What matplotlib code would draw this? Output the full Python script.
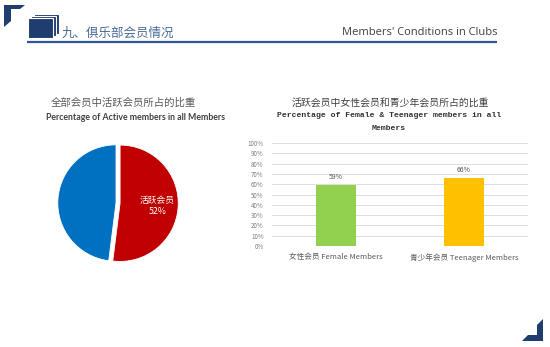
import matplotlib

matplotlib.use("Agg")

from matplotlib import pyplot as plt
from matplotlib.patches import Polygon, Rectangle

CJK = ["Noto Sans CJK SC", "DejaVu Sans"]
plt.rcParams["font.family"] = CJK

# data
pie_labels = ["活跃会员", "非活跃会员"]
pie_values = [52, 48]
pie_colors = ["#c00000", "#0070c0"]

bar_categories = ["女性会员 Female Members", "青少年会员 Teenager Members"]
bar_values = [0.59, 0.66]
bar_colors = ["#92d050", "#ffc000"]
y_ticks = [i / 10 for i in range(11)]
y_tick_labels = [f"{i * 10}%" for i in range(11)]

W, H = 550, 347
fig = plt.figure(figsize=(W / 100, H / 100), dpi=100)
fig.patch.set_facecolor("white")


def px_axes(left, top, width, height):
    # axes placed in pixel coords (origin top-left)
    return fig.add_axes([left / W, 1 - (top + height) / H, width / W, height / H])


# background layer for header decorations
bg = fig.add_axes([0, 0, 1, 1])
bg.set_xlim(0, W)
bg.set_ylim(H, 0)
bg.axis("off")

navy = "#1f3d6e"
bg.add_patch(Polygon([(4, 5), (25, 5), (20, 9), (11, 9), (11, 21), (4, 27)],
                     closed=True, facecolor=navy, edgecolor="none"))
bg.add_patch(Polygon([(543, 319), (543, 341), (522, 341), (528, 335), (537, 335), (537, 325)],
                     closed=True, facecolor=navy, edgecolor="none"))
for dx, dy in [(6, -4), (3, -2), (0, 0)]:
    bg.add_patch(Rectangle((28 + dx, 18 + dy), 25, 20, facecolor=navy,
                           edgecolor="white", linewidth=0.8))
bg.plot([27, 497], [41.5, 41.5], color="#2f5597", linewidth=1.6, solid_capstyle="butt")
bg.text(62, 33, "九、俱乐部会员情况", fontsize=9, color="#4a6b98", va="center", ha="left")
bg.text(497, 32, "Members' Conditions in Clubs", fontsize=8, color="#404040",
        va="center", ha="right", family=["Open Sans", "DejaVu Sans"])

# pie titles
bg.text(123, 103, "全部会员中活跃会员所占的比重", fontsize=7.5, color="#595959",
        ha="center", va="center")
bg.text(136, 117, "Percentage of Active members in all Members", fontsize=6.3,
        color="#404040", ha="center", va="center", fontweight="bold",
        family=["Lato", "DejaVu Sans"])

# pie
pax = px_axes(116 - 64, 203 - 64, 128, 128)
wedges, _, autotexts = pax.pie(
    pie_values,
    colors=pie_colors,
    startangle=90,
    counterclock=False,
    explode=[0.07, 0],
    radius=1,
    autopct=lambda p: f"{pie_labels[0]}\n{p:.0f}%" if p > 50 else "",
    pctdistance=0.64,
    textprops=dict(color="white", fontsize=6.3),
    wedgeprops=dict(edgecolor="white", linewidth=0.6),
)
for t in autotexts:
    t.set_linespacing(1.3)
pax.set_xlim(-1.1, 1.1)
pax.set_ylim(-1.1, 1.1)
pax.set_aspect("equal")

# bar titles
bg.text(390, 103, "活跃会员中女性会员和青少年会员所占的比重", fontsize=7.1,
        color="#404040", ha="center", va="center")
bg.text(389, 115, "Percentage of Female & Teenager members in all", fontsize=5.9,
        color="#333333", ha="center", va="center", fontweight="bold",
        family=["Liberation Mono", "DejaVu Sans"])
bg.text(389, 128, "Members", fontsize=5.9, color="#333333", ha="center",
        va="center", fontweight="bold", family=["Liberation Mono", "DejaVu Sans"])

# bar chart
bax = px_axes(272, 143, 256, 103)
x = range(len(bar_categories))
bars = bax.bar(x, bar_values, width=0.31, color=bar_colors, zorder=3)
bax.set_xlim(-0.5, 1.5)
bax.set_ylim(0, 1)
bax.set_yticks(y_ticks)
bax.set_yticklabels(y_tick_labels)
bax.set_xticks(list(x))
bax.set_xticklabels(bar_categories)
bax.grid(axis="y", color="#d9d9d9", linewidth=0.6, zorder=0)
for s in bax.spines.values():
    s.set_visible(False)
bax.tick_params(axis="y", length=0, labelsize=4.5, labelcolor="#7f7f7f", pad=6)
bax.tick_params(axis="x", length=0, labelsize=5.5, labelcolor="#595959", pad=5)
bax.bar_label(bars, labels=[f"{v * 100:.0f}%" for v in bar_values], padding=3,
              fontsize=5, color="#595959")

fig.savefig("out.png", dpi=100, facecolor="white")
